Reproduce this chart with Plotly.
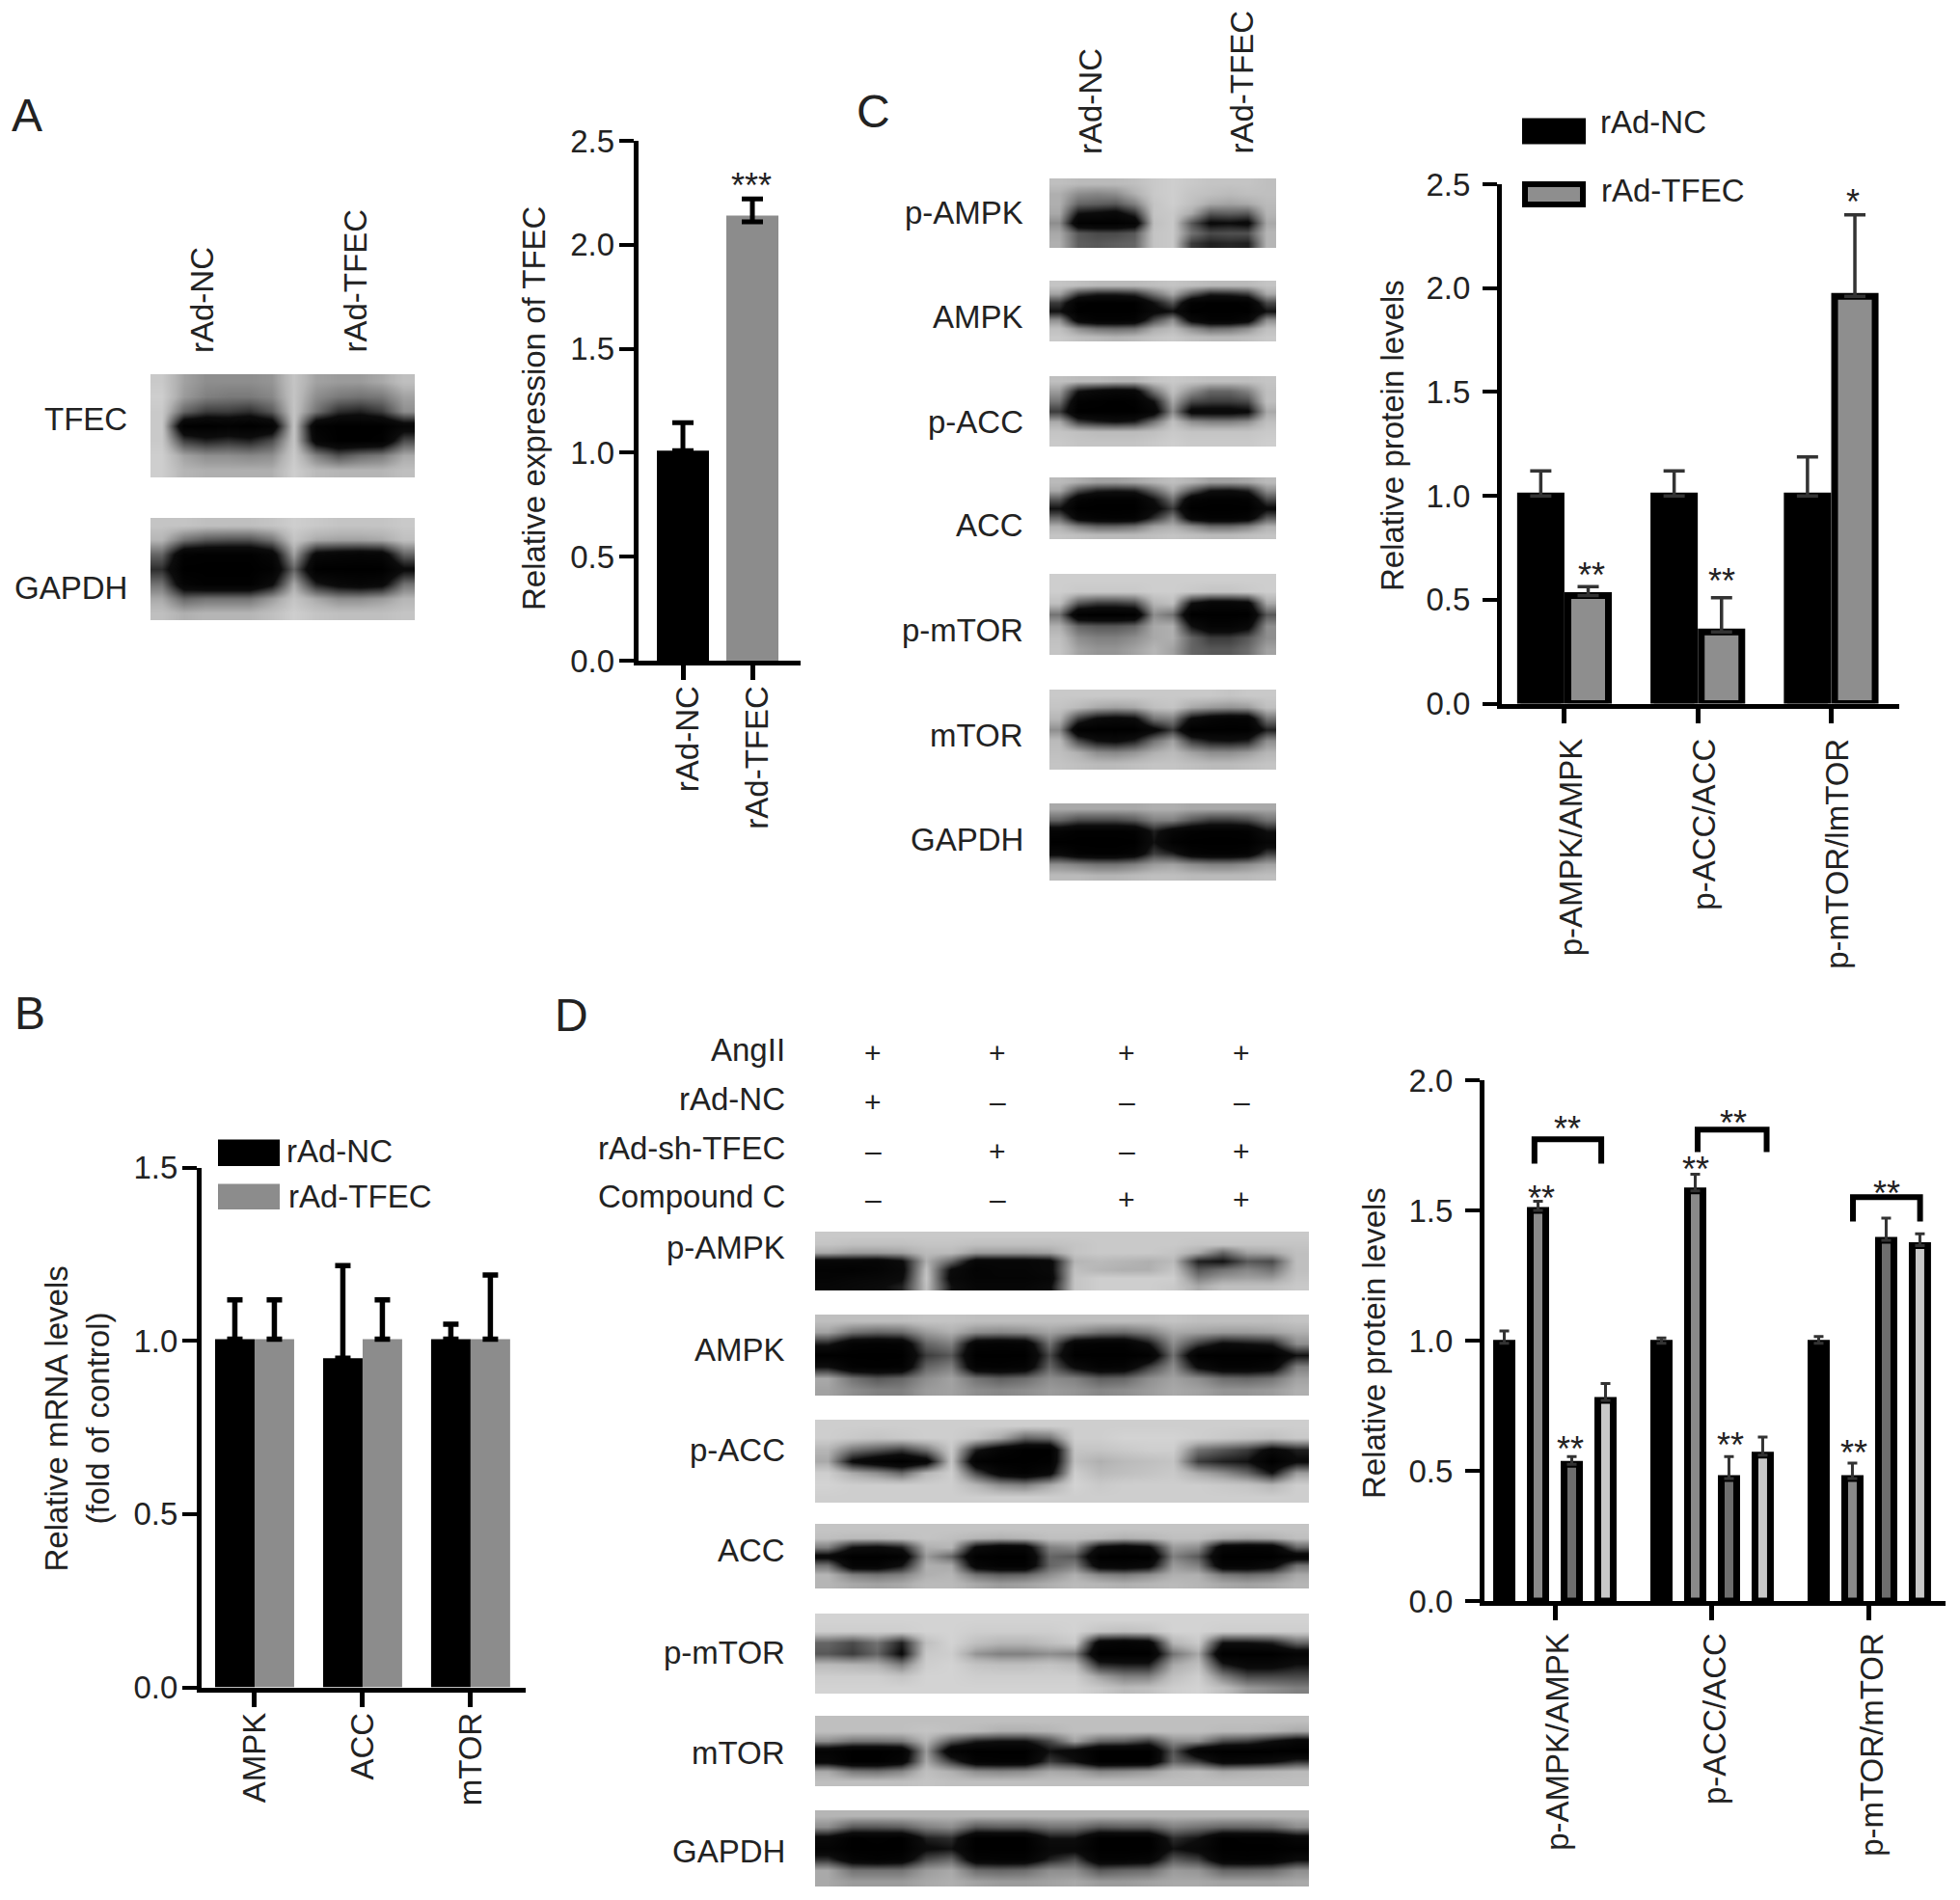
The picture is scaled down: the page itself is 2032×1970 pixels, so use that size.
import plotly.graph_objects as go

W, H = 2032, 1970
FONT = "Liberation Sans"
INK = "#222222"

# ---------- bar chart data ----------
A_CATS = ["rAd-NC", "rAd-TFEC"]
A_VALUES = [1.01, 2.14]
A_TOPS = [1.145, 2.22]
A_TICKS = [0.0, 0.5, 1.0, 1.5, 2.0, 2.5]

B_CATS = ["AMPK", "ACC", "mTOR"]
B_NC = [1.005, 0.95, 1.005]
B_TFEC = [1.005, 1.005, 1.005]
B_NC_TOPS = [1.118, 1.217, 1.048]
B_TFEC_TOPS = [1.118, 1.118, 1.19]
B_TICKS = [0.0, 0.5, 1.0, 1.5]

C_CATS = ["p-AMPK/AMPK", "p-ACC/ACC", "p-mTOR/lmTOR"]
C_NC = [1.0, 1.0, 1.0]
C_TFEC = [0.52, 0.345, 1.96]
C_NC_TOPS = [1.12, 1.12, 1.188]
C_TFEC_TOPS = [0.563, 0.51, 2.353]
C_TICKS = A_TICKS

D_CATS = ["p-AMPK/AMPK", "p-ACC/ACC", "p-mTOR/mTOR"]
D_S1 = [0.99, 0.99, 0.99]
D_S2 = [1.50, 1.575, 0.47]
D_S3 = [0.525, 0.47, 1.385]
D_S4 = [0.77, 0.56, 1.365]
D_S1_TOPS = [1.037, 1.01, 1.016]
D_S2_TOPS = [1.535, 1.639, 0.53]
D_S3_TOPS = [0.555, 0.555, 1.47]
D_S4_TOPS = [0.835, 0.63, 1.41]
D_TICKS = [0.0, 0.5, 1.0, 1.5, 2.0]
D_BRACKET_1_X = [-0.13, -0.13, 0.295, 0.295]
D_BRACKET_1_Y = [1.68, 1.773, 1.773, 1.68]
D_BRACKET_2_X = [0.908, 0.908, 1.347, 1.347]
D_BRACKET_2_Y = [1.724, 1.81, 1.81, 1.724]
D_BRACKET_3_X = [1.896, 1.896, 2.323, 2.323]
D_BRACKET_3_Y = [1.457, 1.551, 1.551, 1.457]

A_STARS = [(0.986, 2.33, "***")]
C_STARS = [(0.204, 0.664, "**"), (1.182, 0.638, "**"), (2.16, 2.46, "*")]
D_STARS = [(-0.088, 1.585, "**"), (0.08, 1.851, "**"), (0.896, 1.693, "**"), (1.135, 1.873, "**"),
           (0.097, 0.622, "**"), (1.117, 0.636, "**"), (1.902, 0.605, "**"), (2.11, 1.603, "**")]

# ---------- treatment table (panel D) ----------
D_ROW_NAMES = ["AngII", "rAd-NC", "rAd-sh-TFEC", "Compound C"]
D_ROW_SIGNS = [["+", "+", "+", "+"], ["+", "–", "–", "–"], ["–", "+", "–", "+"], ["–", "–", "+", "+"]]

# ---------- blot densitometry grids (grey levels) ----------
A_TFEC = [
 [200,165,150,150,150,155,195,165,160,160,170,190],
 [205,160,140,135,135,145,195,150,135,130,135,165],
 [200,120,90,90,80,110,195,130,80,70,90,150],
 [200,5,0,10,0,15,195,10,0,0,0,30],
 [200,90,70,80,70,100,195,30,0,0,5,100],
 [205,165,150,150,145,150,200,140,105,125,135,170],
 [205,180,175,175,175,175,205,185,180,180,180,190]]
A_GAPDH = [
 [195,195,190,190,190,195,205,200,195,195,195,200],
 [180,130,110,105,105,130,195,170,165,165,170,190],
 [120,10,5,5,5,30,165,40,30,25,30,120],
 [80,0,0,0,0,10,120,0,0,0,0,50],
 [130,20,5,5,5,50,170,70,40,30,40,130],
 [170,120,130,130,130,160,195,170,150,150,160,180],
 [190,175,180,180,180,190,205,195,190,190,190,195]]
C_PAMPK = [
 [190,185,185,185,190,200,205,200,195,195,195,190],
 [175,150,145,150,175,200,205,195,190,185,190,190],
 [175,120,115,110,140,195,205,190,170,165,170,185],
 [170,60,50,40,80,195,200,170,110,115,110,180],
 [150,10,5,5,20,190,200,110,50,55,45,170],
 [170,110,100,100,110,195,200,130,100,105,105,180],
 [175,115,110,115,120,195,200,90,70,75,70,180]]
C_AMPK = [
 [195,190,185,185,185,190,195,190,185,185,185,195],
 [165,90,70,70,80,130,170,110,70,75,90,170],
 [90,5,0,0,0,60,110,10,0,0,5,100],
 [60,0,0,0,0,40,60,0,0,0,0,60],
 [150,30,10,10,15,100,150,40,10,10,30,150],
 [190,150,130,125,130,170,185,150,125,130,150,190],
 [200,190,185,180,185,195,200,190,185,185,190,200]]
C_PACC = [
 [190,185,185,180,180,195,200,195,190,190,190,195],
 [160,60,40,30,35,130,190,150,120,120,140,190],
 [130,10,5,0,5,60,170,100,90,90,100,190],
 [90,0,0,0,0,30,150,40,40,40,50,170],
 [170,90,70,60,70,130,190,150,140,140,150,190],
 [195,190,185,185,185,190,200,195,195,195,195,200],
 [200,195,195,195,195,200,205,200,200,200,200,205]]
C_ACC = [
 [185,175,165,165,170,180,190,180,165,165,170,185],
 [170,100,70,65,70,120,170,110,60,55,70,150],
 [110,20,5,5,5,60,130,20,5,5,10,100],
 [60,0,0,0,0,40,90,0,0,0,0,50],
 [120,30,15,10,15,80,140,30,10,10,20,110],
 [175,140,120,120,130,165,175,150,125,125,140,175],
 [195,190,185,185,185,190,195,190,185,185,190,195]]
C_PMTOR = [
 [205,205,205,205,205,205,205,205,205,205,205,205],
 [205,200,200,200,200,205,205,200,195,195,200,205],
 [190,110,90,90,100,180,190,60,30,30,40,170],
 [130,5,0,0,5,150,130,0,0,0,0,110],
 [175,120,110,110,120,170,175,60,20,20,40,150],
 [190,150,140,140,150,170,175,120,90,90,110,150],
 [195,165,155,155,165,180,165,120,110,110,125,165]]
C_MTOR = [
 [200,200,200,200,200,200,200,200,200,195,200,200],
 [195,185,170,165,170,190,195,170,160,155,160,190],
 [180,90,50,40,50,130,140,50,25,15,20,130],
 [150,5,0,0,0,40,90,0,0,0,0,70],
 [185,100,60,50,70,130,165,90,65,60,70,150],
 [190,175,150,145,155,175,185,165,150,150,160,180],
 [195,190,185,185,190,195,195,190,185,185,190,195]]
C_GAPDH = [
 [170,170,170,170,170,175,175,170,170,170,170,170],
 [120,100,100,100,110,140,140,110,90,90,100,130],
 [20,5,5,5,10,70,30,10,5,5,10,60],
 [0,0,0,0,0,60,10,0,0,0,0,30],
 [40,10,5,5,20,90,70,20,10,10,20,90],
 [150,140,130,130,140,160,165,150,140,140,150,165],
 [185,185,180,180,185,190,190,185,185,185,185,190]]
D_PAMPK = [
 [200,200,200,200,200,200,200,200,200,200,200,200,200,200,200,200,200,200,200,200],
 [195,190,190,190,195,195,190,190,190,190,195,200,200,200,200,195,195,195,195,195],
 [170,160,160,165,185,185,160,160,160,165,195,200,200,200,195,170,120,165,170,190],
 [30,30,25,50,175,120,30,30,30,40,180,185,180,175,185,70,60,110,100,190],
 [15,10,20,40,190,50,15,25,25,40,190,180,175,175,195,110,130,145,130,190],
 [20,30,35,50,195,40,20,20,20,30,195,205,205,205,205,140,160,165,160,195],
 [30,40,50,70,190,60,30,30,30,50,195,205,205,205,200,170,190,190,190,200]]
D_AMPK = [
 [190,190,190,190,195,195,190,190,190,190,190,190,190,190,195,190,190,190,190,195],
 [165,130,120,125,160,175,150,145,150,165,150,130,125,140,170,165,160,160,165,175],
 [70,15,10,15,120,140,20,15,20,130,20,10,10,60,150,90,50,60,70,150],
 [0,0,0,0,90,110,0,0,0,100,0,0,0,5,130,0,0,0,0,60],
 [60,10,5,10,120,140,15,10,20,120,50,15,20,90,150,50,15,15,30,140],
 [170,130,110,120,150,165,130,115,125,150,140,115,120,150,165,150,125,120,130,165],
 [165,150,140,140,160,165,150,145,150,160,155,145,150,160,170,165,155,155,160,175]]
D_PACC = [
 [205,205,205,205,205,205,205,205,205,205,205,205,205,205,205,205,205,205,205,205],
 [205,200,195,200,205,205,195,170,120,130,205,205,210,210,210,205,200,195,190,200],
 [180,130,110,90,130,200,70,20,0,0,195,195,200,205,205,130,110,90,40,70],
 [170,50,20,0,30,195,10,0,0,5,190,175,185,190,195,90,70,60,0,50],
 [205,170,150,120,180,205,100,30,10,40,205,185,190,195,200,170,150,120,60,160],
 [210,205,205,205,205,205,180,150,140,170,210,200,205,205,205,205,200,195,180,205],
 [205,205,205,205,205,205,205,205,205,205,205,205,205,205,205,205,205,205,205,205]]
D_ACC = [
 [195,195,195,195,195,195,195,195,195,195,195,195,195,195,195,195,195,195,195,195],
 [190,185,185,190,195,190,180,175,180,190,190,185,175,180,190,190,175,170,175,190],
 [140,60,50,70,175,180,50,25,30,140,150,50,30,50,160,150,25,15,20,120],
 [40,0,0,10,160,120,5,0,0,120,110,0,0,0,140,110,0,0,0,20],
 [130,20,20,60,175,170,30,10,10,120,140,30,25,40,160,140,20,20,40,130],
 [180,140,130,140,175,180,130,115,120,150,175,145,135,150,175,175,135,125,135,170],
 [180,170,165,170,185,185,170,160,165,175,185,180,175,180,185,180,170,165,170,180]]
D_PMTOR = [
 [210,210,210,210,210,210,210,210,210,210,210,210,210,210,210,210,210,210,210,210],
 [205,205,205,205,210,210,205,205,205,205,210,195,190,195,210,210,205,205,205,205],
 [120,100,130,70,190,210,190,180,180,190,200,30,20,30,180,200,60,60,70,120],
 [110,90,120,50,200,205,155,140,140,150,140,0,0,0,130,170,0,0,0,20],
 [185,180,175,140,205,210,195,190,190,195,185,80,70,70,170,190,70,40,40,60],
 [205,205,205,195,210,210,205,205,205,205,205,165,140,140,190,205,140,100,100,100],
 [210,210,210,210,210,210,210,210,210,210,210,200,185,190,205,210,190,160,150,140]]
D_MTOR = [
 [190,190,190,190,190,190,190,190,190,190,190,190,190,190,190,190,190,190,190,190],
 [190,190,190,190,195,190,185,175,175,180,190,190,190,190,190,190,185,185,180,170],
 [150,130,130,135,180,110,70,60,60,100,165,120,115,90,150,150,100,90,60,30],
 [20,0,0,10,160,15,0,0,0,60,40,0,0,0,110,15,0,0,0,0],
 [35,0,0,25,170,90,15,10,10,90,60,0,0,0,120,90,30,35,50,80],
 [170,135,130,145,190,175,150,145,150,170,165,145,150,160,180,185,170,175,180,185],
 [190,190,190,190,195,190,190,190,190,190,190,190,190,190,190,190,190,190,190,190]]
D_GAPDH = [
 [180,180,180,180,180,180,180,180,180,180,180,180,180,180,180,180,180,180,180,180],
 [150,110,110,115,140,150,110,115,115,130,130,110,115,115,140,130,120,120,125,150],
 [40,0,5,0,70,80,0,0,0,60,60,0,0,0,80,60,0,5,5,30],
 [20,0,0,0,50,60,0,0,0,40,40,0,0,0,60,40,0,0,0,5],
 [80,20,10,20,100,120,20,15,15,70,100,15,15,25,110,90,15,10,15,50],
 [170,130,130,130,160,170,125,120,125,150,150,110,120,125,160,155,120,120,125,150],
 [170,160,160,160,170,175,165,160,160,165,170,160,160,165,170,170,165,165,165,170]]

# ---------- layout helpers (pixel boxes on the page) ----------
def px(x): return x / W
def py(y): return 1 - y / H

fig = go.Figure()
annotations, shapes = [], []
axis_no = [0]
BLOT_SCALE = [[0, "#000000"], [0.22, "#0c0c0c"], [0.45, "#5e5e5e"], [0.7, "#b4b4b4"], [1, "#ffffff"]]

def new_axes(x0, x1, y_top, y_bot):
    axis_no[0] += 1
    n = axis_no[0]
    s = "" if n == 1 else str(n)
    fig.layout[f"xaxis{s}"] = dict(domain=[px(x0), px(x1)], anchor=f"y{s}")
    fig.layout[f"yaxis{s}"] = dict(domain=[py(y_bot), py(y_top)], anchor=f"x{s}")
    return n, s

def text(x, y, t, size=33, xanchor="center", yanchor="middle", angle=0, color=INK):
    annotations.append(dict(xref="paper", yref="paper", x=px(x), y=py(y), text=t, showarrow=False,
                            xanchor=xanchor, yanchor=yanchor, textangle=angle, borderpad=0, borderwidth=0,
                            font=dict(family=FONT, size=size, color=color)))

def blot(grid, x0, x1, y0, y1):
    n, s = new_axes(x0, x1, y0, y1)
    fig.add_trace(go.Heatmap(z=grid, zmin=0, zmax=255, zsmooth="best", showscale=False, hoverinfo="skip",
                             colorscale=BLOT_SCALE, xaxis=f"x{s}", yaxis=f"y{s}"))
    fig.layout[f"xaxis{s}"].update(visible=False, range=[-0.5, len(grid[0]) - 0.5], fixedrange=True)
    fig.layout[f"yaxis{s}"].update(visible=False, range=[len(grid) - 0.5, -0.5], fixedrange=True)

def bar_axes(x0, x1, y_top, y_bot, y_max, yticks, cats, x_lo, x_hi, xstand, xshift, ystand):
    n, s = new_axes(x0, x1, y_top, y_bot)
    fig.layout[f"xaxis{s}"].update(range=[x_lo, x_hi], tickmode="array", tickvals=list(range(len(cats))), ticktext=cats,
        tickangle=-90, ticks="outside", ticklen=15, tickwidth=5, tickcolor="black", showline=True, linewidth=5,
        linecolor="black", showgrid=False, zeroline=False, ticklabelstandoff=xstand, ticklabelshift=xshift,
        tickfont=dict(family=FONT, size=33, color=INK))
    fig.layout[f"yaxis{s}"].update(range=[0, y_max], tickmode="array", tickvals=yticks,
        ticktext=[f"{v:.1f}" for v in yticks], ticks="outside", ticklen=15, tickwidth=4, tickcolor="black",
        showline=True, linewidth=5, linecolor="black", showgrid=False, zeroline=False, ticklabelstandoff=ystand,
        tickfont=dict(family=FONT, size=33, color=INK))
    return s

def bars(s, x, y, tops, color, width, offset, border, err_w, err_cap, err_color="black", minus=None):
    err = [round(t - v, 3) for t, v in zip(tops, y)]
    fig.add_trace(go.Bar(x=x, y=y, width=width, offset=offset, xaxis=f"x{s}", yaxis=f"y{s}", hoverinfo="skip",
        marker=dict(color=color, line=dict(color="black", width=border)), showlegend=False,
        error_y=dict(type="data", symmetric=False, array=err, arrayminus=minus or [0] * len(y),
                     color=err_color, thickness=err_w, width=err_cap)))

def stars(s, items, size=36):
    for x, y, t in items:
        annotations.append(dict(xref=f"x{s}", yref=f"y{s}", x=x, y=y, text=t, showarrow=False, yshift=-10,
                                font=dict(family=FONT, size=size, color=INK), borderpad=0))

# ---------- panel A ----------
text(28, 119, "A", 48); text(31, 1050, "B", 48); text(905, 115, "C", 48); text(592, 1052, "D", 48)
blot(A_TFEC, 156, 430, 388, 495)
blot(A_GAPDH, 156, 430, 537, 643)
text(132, 434, "TFEC", 33, "right"); text(132, 610, "GAPDH", 33, "right")
text(210, 366, "rAd-NC", 33, yanchor="bottom", angle=-90)
text(368, 366, "rAd-TFEC", 33, yanchor="bottom", angle=-90)
sA = bar_axes(661.7, 830, 146, 685, 2.5, A_TICKS, A_CATS, -0.643, 1.694, -7, 5, -2)
bars(sA, [0, 1], A_VALUES, A_TOPS, ["#000000", "#8c8c8c"], 0.75, -0.375, 0, 5, 11, minus=[0, 0.03])
stars(sA, A_STARS)
text(553, 424, "Relative expression of TFEC", 33, angle=-90)

# ---------- panel B ----------
sB = bar_axes(209, 545, 1210.6, 1749.6, 1.5, B_TICKS, B_CATS, -0.491, 2.51, -7, 0, -2)
bars(sB, [0, 1, 2], B_NC, B_NC_TOPS, "#000000", 0.366, -0.366, 0, 5.5, 8)
bars(sB, [0, 1, 2], B_TFEC, B_TFEC_TOPS, "#8c8c8c", 0.366, 0.0, 0, 5.5, 8)
text(57.5, 1471, "Relative mRNA levels", 33, angle=-90)
text(100.6, 1471, "(fold of control)", 33, angle=-90)
shapes.append(dict(type="rect", xref="paper", yref="paper", x0=px(226), x1=px(290), y0=py(1181.5), y1=py(1209),
                   fillcolor="#000000", line=dict(width=0)))
shapes.append(dict(type="rect", xref="paper", yref="paper", x0=px(226), x1=px(290), y0=py(1227.5), y1=py(1254),
                   fillcolor="#8c8c8c", line=dict(width=0)))
text(297, 1193.6, "rAd-NC", 33, "left"); text(298.6, 1240, "rAd-TFEC", 33, "left")

# ---------- panel C ----------
for g, y0, y1, lab, ly in [(C_PAMPK, 185, 257, "p-AMPK", 220), (C_AMPK, 291, 354, "AMPK", 328),
                           (C_PACC, 390, 463, "p-ACC", 437), (C_ACC, 495, 559, "ACC", 544),
                           (C_PMTOR, 595, 679, "p-mTOR", 653), (C_MTOR, 715, 798, "mTOR", 762),
                           (C_GAPDH, 833, 913, "GAPDH", 870)]:
    blot(g, 1088, 1323, y0, y1)
    text(1061, ly, lab, 33, "right")
text(1130, 160, "rAd-NC", 33, yanchor="bottom", angle=-90)
text(1287, 160, "rAd-TFEC", 33, yanchor="bottom", angle=-90)
sC = bar_axes(1557, 1969, 191, 729.6, 2.5, C_TICKS, C_CATS, -0.47, 2.51, 3, 7, 6)
bars(sC, [0, 1, 2], C_NC, C_NC_TOPS, "#000000", 0.304, -0.33, 7, 3.5, 11, "#333333")
bars(sC, [0, 1, 2], C_TFEC, C_TFEC_TOPS, "#8e8e8e", 0.304, 0.0255, 7, 3.5, 11, "#333333")
stars(sC, C_STARS)
text(1444, 452, "Relative protein levels", 33, angle=-90)
shapes.append(dict(type="rect", xref="paper", yref="paper", x0=px(1578), x1=px(1644), y0=py(122.5), y1=py(149.4),
                   fillcolor="#000000", line=dict(width=0)))
shapes.append(dict(type="rect", xref="paper", yref="paper", x0=px(1581), x1=px(1641), y0=py(191), y1=py(212),
                   fillcolor="#8e8e8e", line=dict(width=6, color="black")))
text(1659, 127, "rAd-NC", 33, "left"); text(1660, 197.5, "rAd-TFEC", 33, "left")

# ---------- panel D ----------
for g, y0, y1, lab, ly in [(D_PAMPK, 1277, 1338, "p-AMPK", 1293), (D_AMPK, 1363, 1447, "AMPK", 1399),
                           (D_PACC, 1472, 1558, "p-ACC", 1503), (D_ACC, 1580, 1647, "ACC", 1607),
                           (D_PMTOR, 1673, 1756, "p-mTOR", 1713), (D_MTOR, 1779, 1852, "mTOR", 1817),
                           (D_GAPDH, 1877, 1956, "GAPDH", 1919)]:
    blot(g, 845, 1357, y0, y1)
    text(814, ly, lab, 33, "right")
ROW_Y = [1091, 1142, 1193, 1243]
COL_X = [905, 1034, 1168, 1287]
for name, signs, ry in zip(D_ROW_NAMES, D_ROW_SIGNS, ROW_Y):
    text(814, ry - 3, name, 33, "right")
    for sign, cx in zip(signs, COL_X):
        text(cx, ry, sign, 30)
sD = bar_axes(1539, 2017, 1120, 1660, 2.0, D_TICKS, D_CATS, -0.448, 2.485, 0, 3, 6)
W_D = 0.098
for vals, tops, col, k in [(D_S1, D_S1_TOPS, "#000000", -1.5), (D_S2, D_S2_TOPS, "#8a8a8a", -0.5),
                           (D_S3, D_S3_TOPS, "#6e6e6e", 0.5), (D_S4, D_S4_TOPS, "#c8c8c8", 1.5)]:
    bars(sD, [0, 1, 2], vals, tops, col, W_D, k * 0.2147 - W_D / 2, 7, 3, 5, "#333333")
for bx, by in [(D_BRACKET_1_X, D_BRACKET_1_Y), (D_BRACKET_2_X, D_BRACKET_2_Y), (D_BRACKET_3_X, D_BRACKET_3_Y)]:
    fig.add_trace(go.Scatter(x=bx, y=by, mode="lines", line=dict(color="black", width=6), xaxis=f"x{sD}", yaxis=f"y{sD}",
                             hoverinfo="skip", showlegend=False))
stars(sD, D_STARS)
text(1424, 1393, "Relative protein levels", 33, angle=-90)

fig.update_layout(width=W, height=H, margin=dict(l=0, r=0, t=0, b=0, autoexpand=False), paper_bgcolor="white",
                  plot_bgcolor="rgba(0,0,0,0)", barmode="overlay", showlegend=False,
                  annotations=annotations, shapes=shapes, font=dict(family=FONT, color=INK))
fig.write_html("out.html", config={"displayModeBar": False},
               post_script="document.body.style.margin='0';document.body.style.overflow='hidden';")
